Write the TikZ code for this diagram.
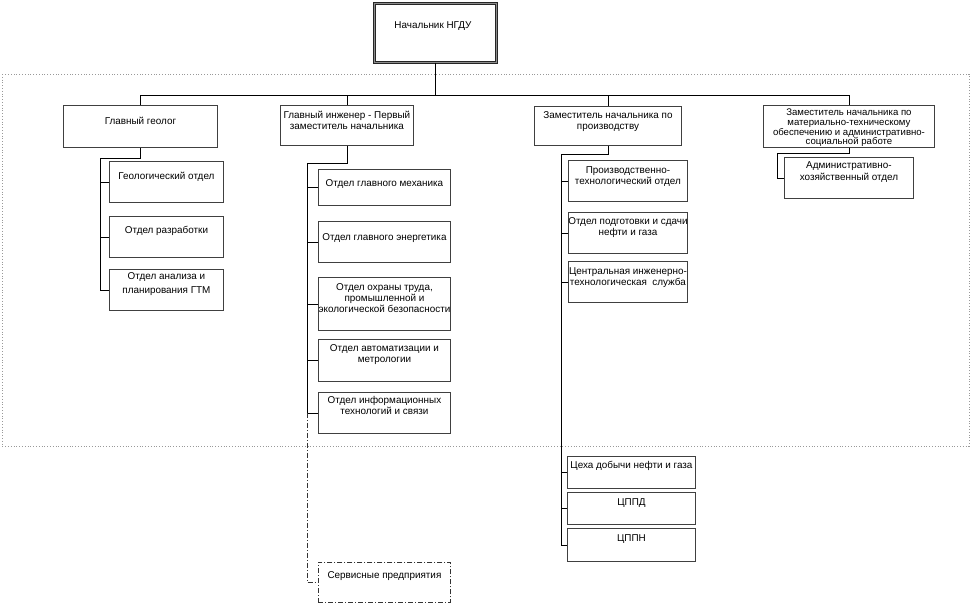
\documentclass[tikz,border=0pt]{standalone}
\usepackage{fontspec}
\setmainfont{Liberation Sans}
\begin{document}
\begin{tikzpicture}[x=1pt,y=-1pt,
  box/.style={draw=black!75, line width=0.9pt, fill=white, rectangle, inner sep=0pt, anchor=north west},
  txt/.style={inner sep=0pt, anchor=north, align=center, font=\fontsize{9.9}{11}\selectfont},
  stxt/.style={inner sep=0pt, anchor=north, align=center, font=\fontsize{9.6}{9.8}\selectfont},
  conn/.style={draw=black, line width=0.8pt},
  dd/.style={draw=black!80, line width=0.9pt, dash pattern=on 5pt off 2pt on 1pt off 2pt}]
\useasboundingbox (0,0) rectangle (971,603);
% dotted frame
\draw[black!40, line width=0.8pt, dotted] (2,74) rectangle (969,446);
% helper macro
\newcommand{\mybox}[5]{\node[box, minimum width=#4-#2, minimum height=#5-#3] (#1) at (#2,#3) {};}
% top
\node[box, draw=black!85, double=black!45, double distance=1.6pt, line width=0.6pt, minimum width=122, minimum height=59] (top) at (374,3) {};
\node[txt] at (433,21.5) {Начальник НГДУ};
% level 1
\mybox{geo}{63}{105}{217}{147}
\node[txt] at (geo.north |- 0,116.5) {Главный геолог};
\mybox{eng}{280}{105}{413}{145}
\node[txt, align=center, font=\fontsize{9.9}{10.5}\selectfont] at (eng.north |- 0,111) {Главный инженер - Первый\\заместитель начальника};
\mybox{zap}{534}{106}{681}{145}
\node[txt] at (zap.north |- 0,111) {Заместитель начальника по\\производству};
\mybox{mto}{763}{105}{934}{147}
\node[stxt] at (mto.north |- 0,108.5) {Заместитель начальника по\\материально-техническому\\обеспечению и административно-\\социальной работе};
% geolog subs
\mybox{g1}{109}{161}{223}{202}
\node[txt] at (g1.north |- 0,171.5) {Геологический отдел};
\mybox{g2}{109}{216}{223}{257}
\node[txt] at (g2.north |- 0,226.5) {Отдел разработки};
\mybox{g3}{109}{269}{223}{310}
\node[txt, font=\fontsize{9.9}{13.5}\selectfont] at (g3.north |- 0,272.5) {Отдел анализа и\\планирования ГТМ};
% engineer subs
\mybox{e1}{318}{169}{450}{205}
\node[txt] at (e1.north |- 0,179.5) {Отдел главного механика};
\mybox{e2}{318}{221}{450}{262}
\node[txt] at (e2.north |- 0,233.5) {Отдел главного энергетика};
\mybox{e3}{318}{277}{450}{330}
\node[txt] at (e3.north |- 0,283.5) {Отдел охраны труда,\\промышленной и\\экологической безопасности};
\mybox{e4}{318}{339}{450}{381}
\node[txt] at (e4.north |- 0,344.5) {Отдел автоматизации и\\метрологии};
\mybox{e5}{318}{392}{450}{433}
\node[txt] at (e5.north |- 0,396.5) {Отдел информационных\\технологий и связи};
% services
\node[box, dd, minimum width=132, minimum height=40] (serv) at (318,562) {};
\node[txt] at (serv.north |- 0,571.5) {Сервисные предприятия};
% production subs
\mybox{z1}{568}{160}{687}{201}
\node[txt] at (z1.north |- 0,166.5) {Производственно-\\технологический отдел};
\mybox{z2}{568}{212}{687}{253}
\node[txt] at (z2.north |- 0,217.5) {Отдел подготовки и сдачи\\нефти и газа};
\mybox{z3}{568}{261}{687}{302}
\node[txt] at (z3.north |- 0,267.5) {Центральная инженерно-\\технологическая\ \ служба};
\mybox{z4}{567}{456}{695}{488}
\node[txt] at (z4.north |- 0,461.5) {Цеха добычи нефти и газа};
\mybox{z5}{567}{492}{695}{524}
\node[txt] at (z5.north |- 0,498.5) {ЦППД};
\mybox{z6}{567}{528}{695}{561}
\node[txt] at (z6.north |- 0,534.5) {ЦППН};
% mto subs
\mybox{m1}{784}{157}{913}{198}
\node[txt, font=\fontsize{9.9}{12}\selectfont] at (m1.north |- 0,161.5) {Административно-\\хозяйственный отдел};
% connectors: bus
\coordinate (busL) at (geo.north |- 0,95);
\draw[conn] (top.south) -- (top.south |- busL);
\draw[conn] (geo.north) -- (busL) -| (mto.north);
\draw[conn] (eng.north) -- (eng.north |- busL);
\draw[conn] (zap.north) -- (zap.north |- busL);
% geolog tree
\draw[conn] (geo.south) -- ++(0,10) -| ([xshift=-9pt]g3.west) -- (g3.west);
\foreach \n in {g1,g2} \draw[conn] (\n.west) -- ++(-9,0);
% engineer tree
\draw[conn] (eng.south) -- ++(0,17) -| ([xshift=-11pt]e5.west) -- (e5.west);
\foreach \n in {e1,e2,e3,e4} \draw[conn] (\n.west) -- ++(-11,0);
\draw[dd, line width=0.8pt] ([xshift=-11pt]e5.west) |- (serv.west);
% production tree
\draw[conn] (zap.south) -- ++(0,8) -| ([xshift=-6pt]z6.west) -- (z6.west);
\foreach \n in {z4,z5} \draw[conn] (\n.west) -- ++(-6,0);
\foreach \n in {z1,z2,z3} \draw[conn] (\n.west) -- ++(-7,0);
% mto tree
\draw[conn] (mto.south) -- ++(0,5) -| ([xshift=-7pt]m1.west) -- (m1.west);
\end{tikzpicture}
\end{document}
